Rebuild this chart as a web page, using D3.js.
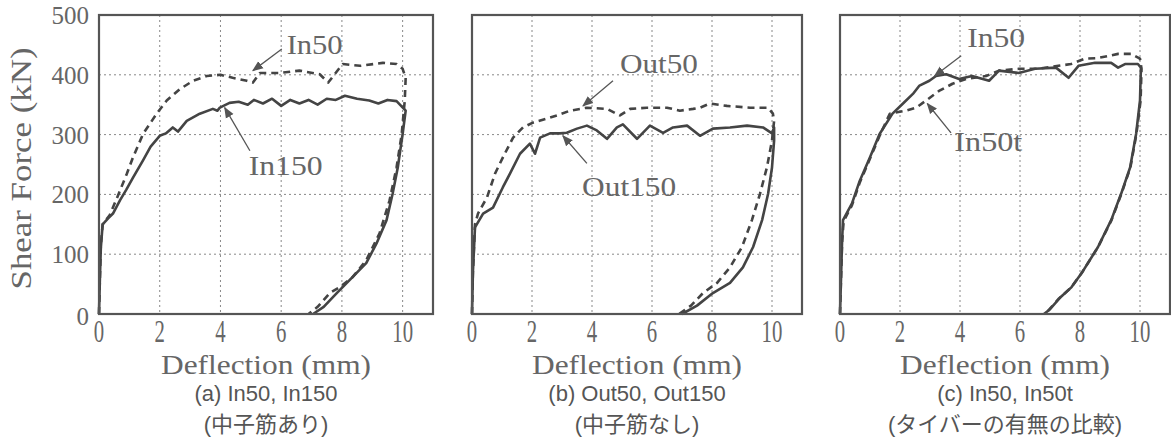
<!DOCTYPE html>
<html>
<head>
<meta charset="utf-8">
<script src="https://cdn.jsdelivr.net/npm/d3@7"></script>
<style>
  body { margin: 0; background: #fff; }
  svg { display: block; }
  .serif { font-family: "Liberation Serif", "Times New Roman", Times, serif; fill: #666; }
  .cap { font-family: "Liberation Sans", Arial, "Noto Sans CJK JP", sans-serif; fill: #555; }
</style>
</head>
<body>
<svg id="chart" width="1171" height="448"></svg>
<script>
// [deflection mm, shear kN]
const in150 = [[0,0],[0.03,60],[0.06,110],[0.12,150],[0.3,160],[0.46,168],[0.69,190],[0.9,208],[1.12,228],[1.45,257],[1.7,280],[2.0,298],[2.2,302],[2.43,312],[2.6,305],[2.89,323],[3.32,335],[3.75,343],[3.9,340],[3.98,345],[4.3,353],[4.6,355],[4.9,350],[5.1,358],[5.4,352],[5.7,360],[6.0,348],[6.3,358],[6.6,352],[6.9,358],[7.2,350],[7.5,360],[7.8,358],[8.1,365],[8.5,360],[8.9,357],[9.2,352],[9.5,358],[9.8,356],[10.1,340],
  [10.0,301],[9.84,245],[9.67,201],[9.47,157],[9.14,118],[8.8,85],[8.26,57],[7.83,35],[7.4,12],[7.05,0]];
const in50 = [[0,0],[0.03,60],[0.06,115],[0.12,150],[0.35,165],[0.6,195],[0.92,235],[1.12,262],[1.45,301],[1.9,335],[2.23,357],[2.66,376],[3.1,390],[3.55,398],[4.0,400],[4.4,395],[4.87,390],[5.07,387],[5.3,403],[5.95,403],[6.6,407],[7.27,401],[7.55,387],[7.93,412],[8.03,418],[8.6,415],[9.35,420],[9.8,418],[10.0,410],[10.1,395],
  [10.07,357],[9.97,301],[9.8,245],[9.57,190],[9.24,135],[8.8,90],[8.36,62],[7.93,45],[7.6,35],[7.2,12],[6.9,0]];
const out150 = [[0,0],[0.03,70],[0.1,145],[0.37,168],[0.7,178],[1.03,212],[1.27,235],[1.6,268],[1.93,285],[2.1,268],[2.27,295],[2.6,302],[2.93,302],[3.16,303],[3.5,310],[3.83,315],[4.16,307],[4.5,293],[4.83,312],[5.03,317],[5.5,293],[5.93,315],[6.37,303],[6.7,312],[7.17,315],[7.6,298],[8.03,310],[8.6,312],[9.17,315],[9.7,312],[10.0,302],[10.07,312],
  [10.07,290],[10.0,245],[9.87,201],[9.67,157],[9.37,112],[9.03,78],[8.6,52],[8.03,35],[7.5,14],[7.0,0]];
const out50 = [[0,0],[0.03,70],[0.1,150],[0.2,168],[0.5,195],[0.77,235],[1.03,262],[1.37,295],[1.7,312],[2.03,320],[2.5,327],[2.83,332],[3.27,340],[3.83,345],[4.5,343],[4.93,332],[5.27,343],[5.83,345],[6.5,345],[6.93,340],[7.37,343],[7.6,345],[7.93,352],[8.5,348],[9.27,345],[9.87,345],[10.03,335],[10.07,323],
  [10.0,290],[9.83,245],[9.6,201],[9.33,157],[9.0,112],[8.6,78],[8.17,52],[7.7,35],[7.3,14],[6.9,0]];
const in50c = [[0,0],[0.04,70],[0.07,123],[0.1,157],[0.4,185],[0.66,223],[1.0,262],[1.32,301],[1.75,335],[2.1,352],[2.43,368],[2.65,382],[2.98,390],[3.2,398],[3.54,401],[3.97,393],[4.4,398],[4.97,390],[5.3,407],[5.96,403],[6.5,410],[7.2,412],[7.62,395],[7.95,415],[8.5,420],[9.04,420],[9.27,412],[9.5,418],[9.93,418],[10.03,412],
  [10.0,357],[9.87,301],[9.67,245],[9.37,201],[9.04,157],[8.6,112],[8.05,68],[7.72,45],[7.35,28],[7.0,8],[6.8,0]];
const in50t = [[0,0],[0.04,70],[0.07,120],[0.12,155],[0.4,182],[0.66,220],[1.0,260],[1.32,298],[1.66,335],[2.2,340],[2.54,345],[2.87,357],[3.3,373],[3.75,385],[4.2,393],[4.87,398],[5.3,407],[5.96,410],[6.6,410],[7.28,415],[7.7,418],[8.17,427],[8.6,428],[9.27,435],[9.7,435],[10.0,427],[10.05,410],
  [10.02,357],[9.88,301],[9.68,245],[9.38,201],[9.05,157],[8.6,112],[8.05,68],[7.7,44],[7.3,26],[6.95,6],[6.8,0]];

const xTicks = [0, 2, 4, 6, 8, 10];
const yTicks = [0, 100, 200, 300, 400, 500];
const yGrid = [100, 200, 300, 400];
const xGrid = [2, 4, 6, 8, 10];

const labelsA = ["In50", "In150"];
const labelsB = ["Out50", "Out150"];
const labelsC = ["In50", "In50t"];

const captionsA = ["(a) In50, In150", "(中子筋あり)"];
const captionsB = ["(b) Out50, Out150", "(中子筋なし)"];
const captionsC = ["(c) In50, In50t", "(タイバーの有無の比較)"];

// where each label and its arrow sit, in data units: text x/y, arrow from x/y, arrow to x/y, text width px
const noteLayoutA = [[6.18, 435, 6.02, 443, 5.07, 407, 56], [4.93, 232, 4.97, 273, 4.14, 345, 74]];
const noteLayoutB = [[4.93, 403, 4.7, 390, 3.7, 348, 78], [3.67, 198, 3.83, 252, 3.03, 298, 94]];
const noteLayoutC = [[4.24, 447, 4.04, 432, 3.15, 398, 58], [3.81, 273, 3.7, 303, 2.91, 352, 68]];

const svg = d3.select("#chart");
svg.append("defs").append("marker")
  .attr("id", "arrow")
  .attr("viewBox", "0 0 10 10")
  .attr("refX", 9).attr("refY", 5)
  .attr("markerWidth", 11).attr("markerHeight", 11)
  .attr("markerUnits", "userSpaceOnUse")
  .attr("orient", "auto")
  .append("path")
  .attr("d", "M0,1 L10,5 L0,9 Z")
  .attr("fill", "#555");

const y = d3.scaleLinear().domain([0, 500]).range([314, 15]);

const panels = [
  { left: 99, right: 433, solid: in150, dashed: in50, labels: labelsA, layout: noteLayoutA, captions: captionsA, yLabels: true },
  { left: 472, right: 802, solid: out150, dashed: out50, labels: labelsB, layout: noteLayoutB, captions: captionsB, yLabels: false },
  { left: 840, right: 1170, solid: in50c, dashed: in50t, labels: labelsC, layout: noteLayoutC, captions: captionsC, yLabels: false }
];

panels.forEach(p => {
  const x = d3.scaleLinear().domain([0, 11]).range([p.left, p.right]);
  const g = svg.append("g");

  // grid
  g.selectAll(".vgrid").data(xGrid).join("line")
    .attr("x1", d => x(d)).attr("x2", d => x(d))
    .attr("y1", y(500)).attr("y2", y(0))
    .attr("stroke", "#888").attr("stroke-width", 1).attr("stroke-dasharray", "2,3");
  g.selectAll(".hgrid").data(yGrid).join("line")
    .attr("x1", p.left).attr("x2", p.right)
    .attr("y1", d => y(d)).attr("y2", d => y(d))
    .attr("stroke", "#888").attr("stroke-width", 1).attr("stroke-dasharray", "2,3");

  const line = d3.line().x(d => x(d[0])).y(d => y(d[1]));

  g.append("path").datum(p.dashed).attr("d", line)
    .attr("fill", "none").attr("stroke", "#444").attr("stroke-width", 2.6)
    .attr("stroke-dasharray", "7,5").attr("stroke-linejoin", "round");
  g.append("path").datum(p.solid).attr("d", line)
    .attr("fill", "none").attr("stroke", "#444").attr("stroke-width", 2.6)
    .attr("stroke-linejoin", "round");

  // frame
  g.append("rect")
    .attr("x", p.left).attr("y", y(500))
    .attr("width", p.right - p.left).attr("height", y(0) - y(500))
    .attr("fill", "none").attr("stroke", "#555").attr("stroke-width", 2.2);

  // x axis ticks (tall, narrow digits)
  g.selectAll(".xt").data(xTicks).join("text")
    .attr("class", "serif")
    .attr("transform", d => `translate(${x(d)},342) scale(0.67,1)`)
    .attr("text-anchor", "middle")
    .attr("font-size", 31)
    .text(d => d);

  if (p.yLabels) {
    g.selectAll(".yt").data(yTicks).join("text")
      .attr("class", "serif")
      .attr("x", p.left - 10)
      .attr("y", d => y(d) + (d === 0 ? 11 : 9))
      .attr("text-anchor", "end")
      .attr("font-size", 25)
      .text(d => d);
    svg.append("text")
      .attr("class", "serif")
      .attr("transform", `translate(31,${(y(0) + y(500)) / 2 + 4}) rotate(-90)`)
      .attr("text-anchor", "middle")
      .attr("font-size", 29)
      .attr("textLength", 242).attr("lengthAdjust", "spacingAndGlyphs")
      .text("Shear Force (kN)");
  }

  g.append("text")
    .attr("class", "serif")
    .attr("x", (p.left + p.right) / 2)
    .attr("y", 374)
    .attr("text-anchor", "middle")
    .attr("font-size", 27)
    .attr("textLength", 210).attr("lengthAdjust", "spacingAndGlyphs")
    .text("Deflection (mm)");

  g.selectAll(".cap").data(p.captions).join("text")
    .attr("class", "cap")
    .attr("x", (p.left + p.right) / 2)
    .attr("y", (d, i) => 401 + i * 31)
    .attr("text-anchor", "middle")
    .attr("font-size", 22)
    .text(d => d);

  // annotations
  const notes = p.labels.map((t, i) => ({ text: t, pos: p.layout[i] }));
  g.selectAll(".arrow").data(notes).join("line")
    .attr("x1", d => x(d.pos[2])).attr("y1", d => y(d.pos[3]))
    .attr("x2", d => x(d.pos[4])).attr("y2", d => y(d.pos[5]))
    .attr("stroke", "#555").attr("stroke-width", 1.3)
    .attr("marker-end", "url(#arrow)");
  g.selectAll(".note").data(notes).join("text")
    .attr("class", "serif")
    .attr("x", d => x(d.pos[0])).attr("y", d => y(d.pos[1]))
    .attr("font-size", 28)
    .attr("textLength", d => d.pos[6]).attr("lengthAdjust", "spacingAndGlyphs")
    .text(d => d.text);
});
</script>
</body>
</html>
